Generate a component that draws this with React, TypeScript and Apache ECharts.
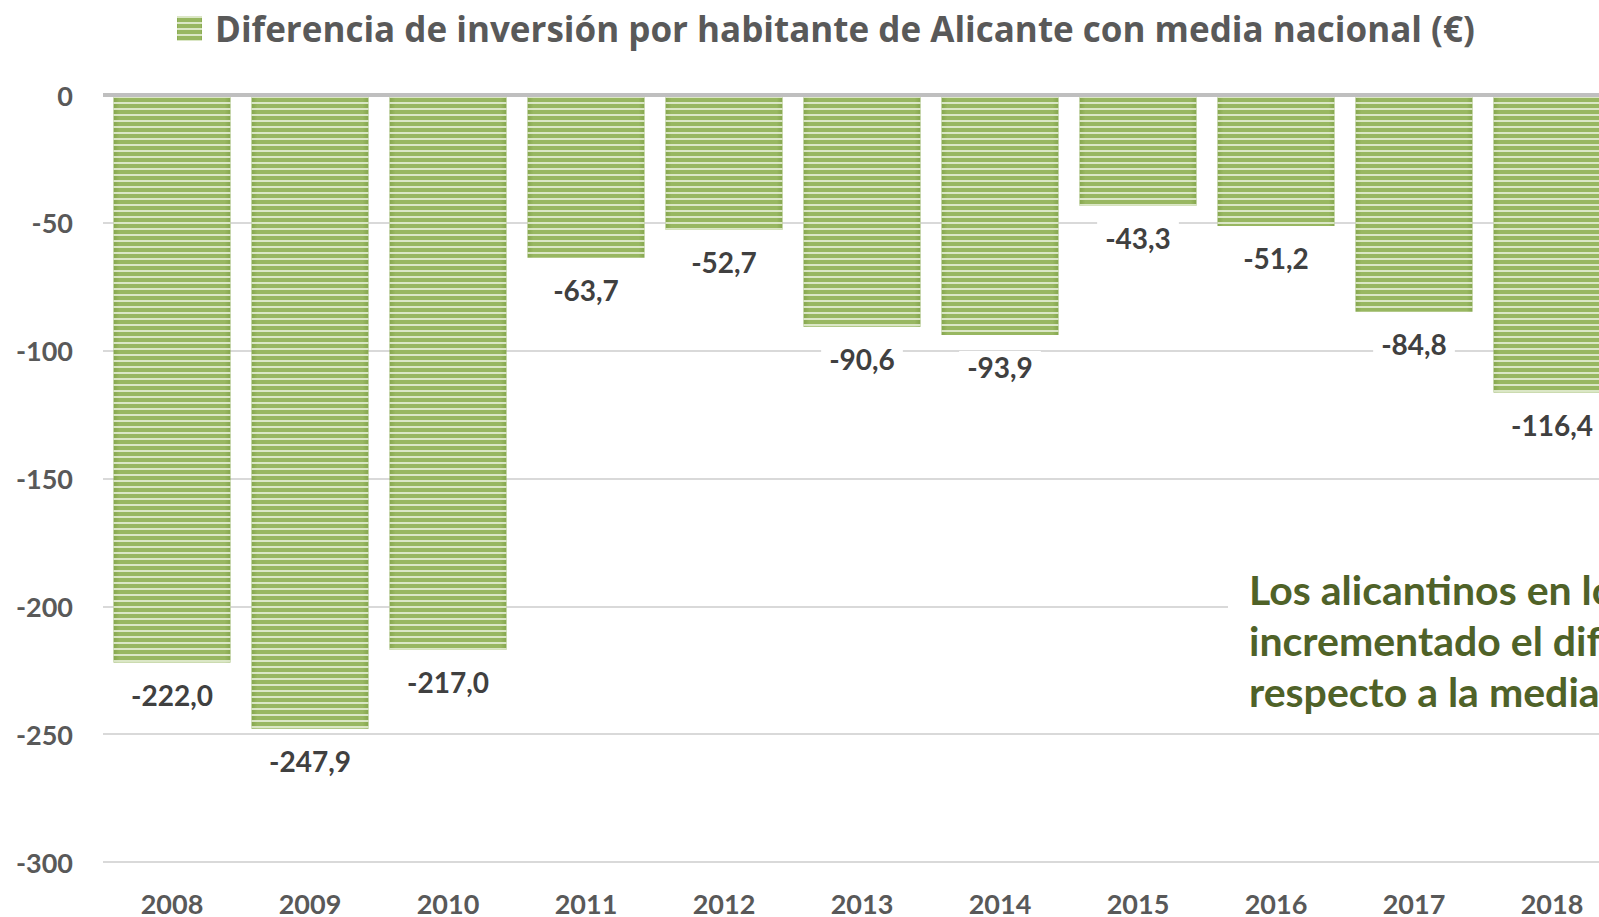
import React, { useEffect, useRef } from "react";
import * as echarts from "echarts";

const years = ["2008", "2009", "2010", "2011", "2012", "2013", "2014", "2015", "2016", "2017", "2018"];
const diff = [-222.0, -247.9, -217.0, -63.7, -52.7, -90.6, -93.9, -43.3, -51.2, -84.8, -116.4];
const seriesName = "Diferencia de inversión por habitante de Alicante con media nacional (€)";
const noteLines = [
  "Los alicantinos en los últimos años han",
  "incrementado el diferencial negativo",
  "respecto a la media nacional",
];

const FONT = "Lato, 'Open Sans', sans-serif";
const TITLE_FONT = "'Open Sans', Lato, sans-serif";

export default function App() {
  const ref = useRef<HTMLDivElement>(null);
  useEffect(() => {
    if (!ref.current) return;
    const chart = echarts.init(ref.current, null, { renderer: "svg" });
    const barColor = new echarts.graphic.LinearGradient(0, 0, 1, 0, [
      { offset: 0, color: "#86a74e" },
      { offset: 0.05, color: "#98b761" },
      { offset: 0.95, color: "#98b761" },
      { offset: 1, color: "#86a74e" },
    ]);
    chart.setOption({
      animation: false,
      backgroundColor: "#ffffff",
      legend: {
        show: true,
        left: 172,
        top: 6,
        itemWidth: 25,
        itemHeight: 25,
        icon: "rect",
        textStyle: {
          fontFamily: TITLE_FONT,
          fontWeight: "bold",
          fontSize: 35,
          color: "#595959",
          padding: [0, 0, 0, 8],
        },
        data: [seriesName],
      },
      grid: {
        left: 103,
        top: 95,
        width: 1518,
        height: 767,
        containLabel: false,
        outerBoundsMode: "none",
      },
      xAxis: {
        type: "category",
        data: years,
        axisLine: { show: false, onZero: false },
        axisTick: { show: false },
        axisLabel: {
          margin: 29,
          fontFamily: FONT,
          fontWeight: "bold",
          fontSize: 27,
          lineHeight: 24,
          color: "#595959",
        },
        splitLine: { show: false },
      },
      yAxis: {
        type: "value",
        min: -300,
        max: 0,
        interval: 50,
        axisLine: { show: false },
        axisTick: { show: false },
        axisLabel: {
          margin: 30,
          fontFamily: FONT,
          fontWeight: "bold",
          fontSize: 27,
          color: "#595959",
        },
        splitLine: { show: true, lineStyle: { color: "#d9d9d9", width: 2 } },
      },
      series: [
        {
          name: seriesName,
          type: "bar",
          data: diff,
          barWidth: 117,
          itemStyle: {
            color: barColor,
            decal: {
              symbol: "rect",
              symbolSize: 1,
              dashArrayX: [1, 0],
              dashArrayY: [2, 4],
              rotation: 0,
              color: "rgba(236, 243, 224, 0.8)",
            },
          },
          label: {
            show: true,
            position: "bottom",
            distance: 16,
            fontFamily: FONT,
            fontWeight: "bold",
            fontSize: 28,
            color: "#404040",
            backgroundColor: "#ffffff",
            padding: [2, 8],
            formatter: (p: any) => p.value.toFixed(1).replace(".", ","),
          },
          markLine: {
            silent: true,
            symbol: "none",
            label: { show: false },
            lineStyle: { color: "#bfbfbf", width: 4, type: "solid" },
            data: [{ yAxis: 0 }],
          },
        },
      ],
      graphic: [
        {
          type: "text",
          left: 1228,
          top: 562,
          z: 100,
          style: {
            text: noteLines.join("\n"),
            fontFamily: FONT,
            fontWeight: "bold",
            fontSize: 41,
            lineHeight: 51,
            fill: "#4f6228",
            backgroundColor: "#ffffff",
            padding: [2, 0, 2, 21],
          },
        },
      ],
    });
    return () => chart.dispose();
  }, []);
  return (
    <div
      ref={ref}
      style={{ position: "fixed", left: 0, top: 0, width: 1599, height: 917 }}
    />
  );
}
